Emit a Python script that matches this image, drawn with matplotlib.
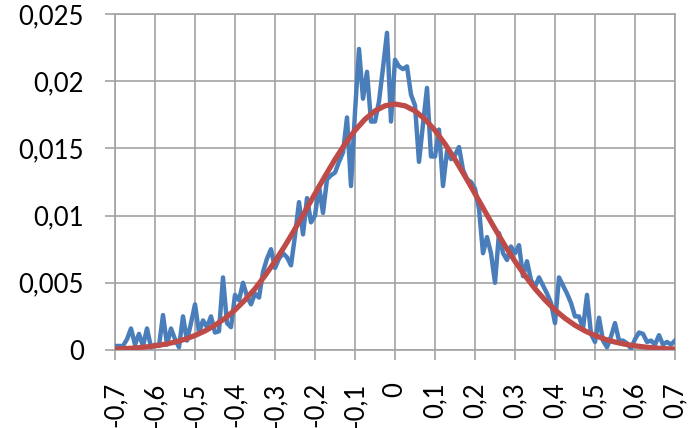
import numpy as np
import matplotlib
matplotlib.use('Agg')
import matplotlib.pyplot as plt

# measured density, one value per 0.01 step from -0.7 to 0.7
measured = [
    0.0003, 0.0003, 0.0003, 0.0008, 0.0016, 0.0004, 0.0012, 0.0003, 0.0016, 0.0002,
    0.0004, 0.0003, 0.0026, 0.0004, 0.0016, 0.0008, 0.0002, 0.0025, 0.0007, 0.0020,
    0.0034, 0.0013, 0.0022, 0.0017, 0.0025, 0.0013, 0.0014, 0.0054, 0.0020, 0.0017,
    0.0041, 0.0037, 0.0050, 0.0040, 0.0034, 0.0042, 0.0039, 0.0058, 0.0068, 0.0075,
    0.0061, 0.0068, 0.0072, 0.0069, 0.0063, 0.0085, 0.0110, 0.0086, 0.0113, 0.0095,
    0.0100, 0.0122, 0.0102, 0.0127, 0.0130, 0.0132, 0.0140, 0.0147, 0.0173, 0.0122,
    0.0177, 0.0224, 0.0187, 0.0207, 0.0170, 0.0170, 0.0185, 0.0210, 0.0236, 0.0170,
    0.0216, 0.0211, 0.0209, 0.0211, 0.0190, 0.0182, 0.0140, 0.0168, 0.0195, 0.0144,
    0.0144, 0.0164, 0.0122, 0.0148, 0.0142, 0.0145, 0.0151, 0.0134, 0.0127, 0.0125,
    0.0120, 0.0105, 0.0072, 0.0084, 0.0072, 0.0050, 0.0087, 0.0072, 0.0067, 0.0077,
    0.0072, 0.0078, 0.0055, 0.0066, 0.0052, 0.0047, 0.0054, 0.0048, 0.0042, 0.0035,
    0.0020, 0.0054, 0.0048, 0.0042, 0.0035, 0.0025, 0.0025, 0.0016, 0.0041, 0.0012,
    0.0006, 0.0024, 0.0007, 0.0002, 0.0010, 0.0020, 0.0007, 0.0007, 0.0005, 0.0001,
    0.0008, 0.0013, 0.0012, 0.0006, 0.0007, 0.0004, 0.0011, 0.0004, 0.0006, 0.0004,
    0.0007,
]

# fitted normal curve, one value per 0.025 step from -0.7 to 0.7
fitted = [
    0.00007, 0.00010, 0.00015, 0.00022, 0.00031, 0.00043, 0.00059, 0.00080,
    0.00108, 0.00142, 0.00184, 0.00236, 0.00298, 0.00372, 0.00456, 0.00553,
    0.00660, 0.00776, 0.00901, 0.01031, 0.01163, 0.01293, 0.01418, 0.01533,
    0.01634, 0.01717, 0.01779, 0.01817, 0.01830,
    0.01817, 0.01779, 0.01717, 0.01634, 0.01533, 0.01418, 0.01293, 0.01163,
    0.01031, 0.00901, 0.00776, 0.00660, 0.00553, 0.00456, 0.00372, 0.00298,
    0.00236, 0.00184, 0.00142, 0.00108, 0.00080, 0.00059, 0.00043, 0.00031,
    0.00022, 0.00015, 0.00010, 0.00007,
]

x_ticks = [-0.7, -0.6, -0.5, -0.4, -0.3, -0.2, -0.1, 0, 0.1, 0.2, 0.3, 0.4, 0.5, 0.6, 0.7]
x_labels = ['-0,7', '-0,6', '-0,5', '-0,4', '-0,3', '-0,2', '-0,1', '0',
            '0,1', '0,2', '0,3', '0,4', '0,5', '0,6', '0,7']
y_ticks = [0, 0.005, 0.01, 0.015, 0.02, 0.025]
y_labels = ['0', '0,005', '0,01', '0,015', '0,02', '0,025']

x_meas = np.linspace(-0.7, 0.7, len(measured))
x_fit = np.linspace(-0.7, 0.7, len(fitted))

plt.rcParams['font.family'] = ['Lato', 'DejaVu Sans']
grid_col = '#a3a3a3'

fig = plt.figure(figsize=(6.96, 4.28), dpi=100)
ax = fig.add_axes([115 / 696, 78 / 428, 560 / 696, 336 / 428])

ax.plot(x_meas, measured, color='#4a7ebb', lw=3.2, solid_joinstyle='round', zorder=3)
ax.plot(x_fit, fitted, color='#be4b48', lw=3.8, solid_capstyle='round', zorder=4)

ax.set_xlim(-0.7, 0.7)
ax.set_ylim(0, 0.025)
ax.set_xticks(x_ticks)
ax.set_xticklabels(x_labels, rotation=90)
ax.set_yticks(y_ticks)
ax.set_yticklabels(y_labels)

ax.grid(True, color=grid_col, lw=1.2)
ax.set_axisbelow(True)
for s in ax.spines.values():
    s.set_color(grid_col)
    s.set_linewidth(1.2)

ax.tick_params(axis='both', direction='out', length=7.2, width=1.2,
               color=grid_col, labelsize=18.5, labelcolor='black')
ax.tick_params(axis='y', pad=15)
ax.tick_params(axis='x', pad=16)

fig.savefig('out.png', dpi=100)
